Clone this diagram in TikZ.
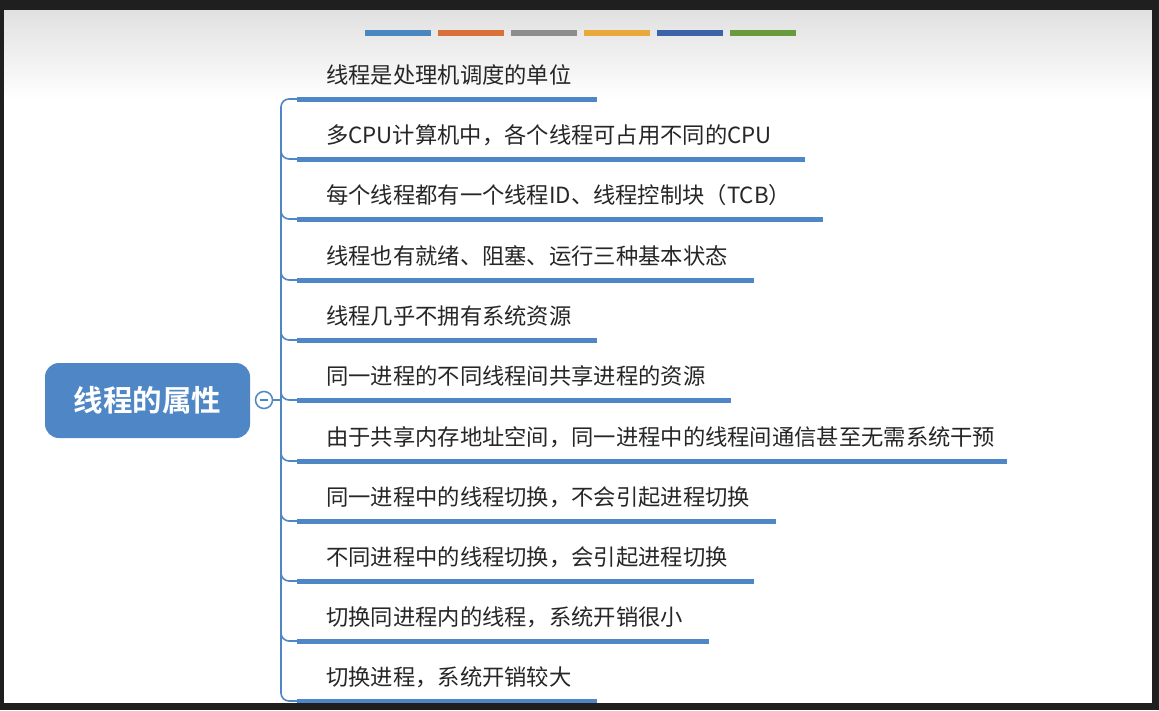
\documentclass[tikz,border=0pt]{standalone}
\usepackage{fontspec}
\newfontfamily\cjk{Noto Sans CJK SC}
\newfontfamily\cjkb{Noto Sans CJK SC Bold}
\begin{document}
\begin{tikzpicture}[x=1pt,y=-1pt,
  bar/.style={line width=5pt,draw=barblue},
  item/.style={anchor=base west,inner sep=0pt,font=\cjk\fontsize{22.3}{26}\selectfont,text=black!85},
  trunk/.style={draw=barblue,line width=1.6pt,rounded corners=8pt}]
\definecolor{barblue}{HTML}{4F86C6}
\definecolor{c1}{HTML}{4A86C0}\definecolor{c2}{HTML}{D9703A}\definecolor{c3}{HTML}{8C8C8C}
\definecolor{c4}{HTML}{E8A83A}\definecolor{c5}{HTML}{3C63A8}\definecolor{c6}{HTML}{6A9A3E}
\useasboundingbox (0,0) rectangle (1159,710);
\fill[black!88] (0,0) rectangle (1159,710);
\shade[top color=black!12,bottom color=white] (4,10) rectangle (1152,100);
\fill[white] (4,100) rectangle (1152,703);
\foreach \c [count=\i] in {c1,c2,c3,c4,c5,c6}
  \fill[\c] ({365+73*(\i-1)},30) rectangle ++(66,6);
\node[fill=barblue,rounded corners=14pt,minimum width=205pt,minimum height=75pt,
  text=white,font=\cjkb\fontsize{29.5}{32}\selectfont] (root) at (147.5,400.5) {线程的属性};
\node[circle,draw=barblue,line width=1.5pt,fill=white,minimum size=17pt,inner sep=0pt] (col) at (264,400) {};
\draw[barblue,line width=1.5pt] (col.center)++(-4,0) -- ++(8,0);
\draw[barblue,line width=1.6pt] (col.east) -- (281,400);
\foreach \y/\e/\t [count=\i] in {
 99/597/线程是处理机调度的单位,
 159/805/多CPU计算机中，各个线程可占用不同的CPU,
 219/823/每个线程都有一个线程ID、线程控制块（TCB）,
 280/754/线程也有就绪、阻塞、运行三种基本状态,
 340/597/线程几乎不拥有系统资源,
 400/731/同一进程的不同线程间共享进程的资源,
 461/1007/由于共享内存地址空间，同一进程中的线程间通信甚至无需系统干预,
 521/776/同一进程中的线程切换，不会引起进程切换,
 581/754/不同进程中的线程切换，会引起进程切换,
 641/709/切换同进程内的线程，系统开销很小,
 701/597/切换进程，系统开销较大}{
  \coordinate (s\i) at (297,\y);
  \coordinate (e\i) at (\e,\y);
  \draw[bar] (s\i) -- (e\i);
  \node[item] (t\i) at (326,{\y-16}) {\t};
}
\draw[trunk] (s1) -- (281,99) -- (281,701) -- (s11);
\foreach \y [count=\i from 2] in {159,219,280,340,400,461,521,581,641}
  \draw[trunk] (281,{\y-20}) -- (281,\y) -- (s\i);
\fill[black!88] (0,703) rectangle (1159,710);
\fill[black!88] (1152,0) rectangle (1159,710);
\end{tikzpicture}
\end{document}
